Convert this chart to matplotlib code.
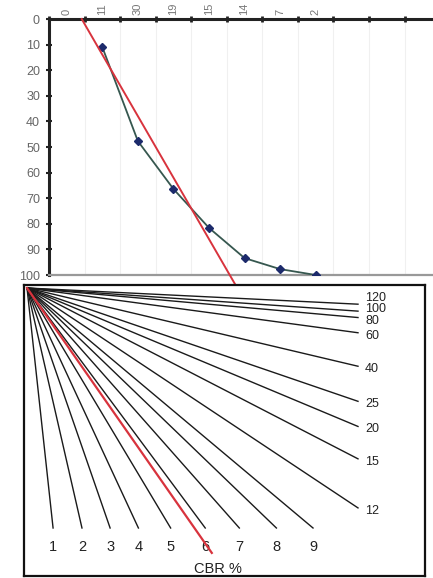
import numpy as np
import matplotlib
matplotlib.use("Agg")
import matplotlib.pyplot as plt

plt.rcParams['font.family'] = ['Liberation Sans', 'DejaVu Sans']

# top chart: cumulative depth per category
cat_labels = ["0", "11", "30", "19", "15", "14", "7", "2"]
cat_pos = [1, 2, 3, 4, 5, 6, 7]
depth = [11, 47.7, 66.4, 81.6, 93.4, 97.7, 100]
trend_x = [0.42, 4.75]
trend_depth = [0, 104]

# bottom nomograph: CBR lines and their angle below horizontal (deg)
cbr_bottom = ["1", "2", "3", "4", "5", "6", "7", "8", "9"]
ang_bottom = [83.8, 77.1, 70.9, 65.1, 59.1, 53.4, 48.5, 43.9, 40.0]
cbr_right = ["12", "15", "20", "25", "40", "60", "80", "100", "120"]
ang_right = [33.6, 27.3, 22.7, 18.9, 13.3, 7.7, 5.1, 4.0, 2.8]
red_ang = 55.1
red_len = 323

W, H = 433, 578
fig = plt.figure(figsize=(W / 100, H / 100), dpi=100)

# ---------- top chart ----------
ax = fig.add_axes([49 / W, 1 - 275 / H, (W - 49) / W, 256 / H])
ax.plot(cat_pos, depth, color='#36574f', lw=1.3, marker='D', ms=4.5,
        mfc='#1c2a6b', mec='#1c2a6b', zorder=3)
ax.plot(trend_x, trend_depth, color='#d8333d', lw=1.4, clip_on=False, zorder=4)
ax.set_xlim(-0.5, 10.3)
ax.set_ylim(100, 0)
ax.set_yticks(np.arange(0, 101, 10))
ax.xaxis.tick_top()
ax.set_xticks(range(len(cat_labels)))
ax.set_xticklabels(cat_labels, rotation=90, color='#777777', fontsize=8)
ax.tick_params(axis='x', which='major', length=0, pad=3)
ax.set_xticks(np.arange(-0.5, 10.3, 1), minor=True)
ax.tick_params(axis='x', which='minor', direction='inout', length=4, width=2,
               color='#222222')
ax.tick_params(axis='y', direction='inout', length=5, width=1.5,
               color='#222222', labelcolor='#666666', labelsize=9, pad=4)
ax.grid(True, which='minor', axis='x', color='#f0f0f0', lw=0.8)
for s in ['top', 'left']:
    ax.spines[s].set_linewidth(2.2)
    ax.spines[s].set_color('#222222')
ax.spines['bottom'].set_color('#999999')
ax.spines['bottom'].set_linewidth(1.6)
ax.spines['right'].set_visible(False)

# ---------- bottom nomograph ----------
bx = fig.add_axes([24 / W, 1 - 576 / H, 401 / W, 291 / H])
bx.set_xlim(0, 401)
bx.set_ylim(291, 0)
bx.set_xticks([])
bx.set_yticks([])
for s in bx.spines.values():
    s.set_linewidth(1.6)
    s.set_color('#111111')

ox, oy = 3, 3
max_dy, max_dx = 240, 331

for lab, a in zip(cbr_bottom, ang_bottom):
    t = np.tan(np.radians(a))
    dy = min(max_dy, max_dx * t)
    dx = dy / t
    bx.plot([ox, ox + dx], [oy, oy + dy], color='#1a1a1a', lw=1.0)
    bx.text(ox + dx, oy + 259, lab, ha='center', va='center', fontsize=10.5,
            color='#222222', fontweight='medium')

prev_y = None
label_y = []
for a in ang_right:
    t = np.tan(np.radians(a))
    y = oy + max_dx * t + 3
    if prev_y is not None:
        y = min(y, prev_y - 11.5)
    label_y.append(y)
    prev_y = y

for lab, a, ly in zip(cbr_right, ang_right, label_y):
    t = np.tan(np.radians(a))
    dx = min(max_dx, max_dy / t)
    dy = dx * t
    bx.plot([ox, ox + dx], [oy, oy + dy], color='#1a1a1a', lw=1.0)
    bx.text(341, ly, lab, ha='left', va='center', fontsize=9,
            color='#222222')

r = np.radians(red_ang)
bx.plot([ox, ox + red_len * np.cos(r)], [oy, oy + red_len * np.sin(r)],
        color='#d8333d', lw=1.6, zorder=4)

bx.text(194, 284, "CBR %", ha='center', va='center', fontsize=10.5,
        color='#222222')

fig.savefig("out.png", dpi=100)
